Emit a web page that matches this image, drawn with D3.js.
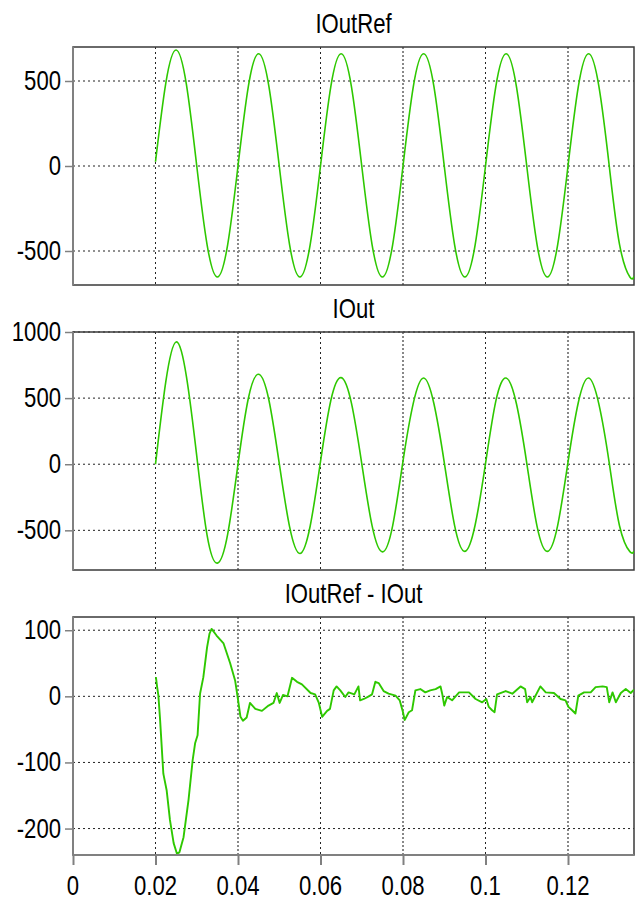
<!DOCTYPE html>
<html>
<head>
<meta charset="utf-8">
<script src="https://cdn.jsdelivr.net/npm/d3@7"></script>
<style>
  body { margin: 0; background: #fff; }
  svg { display: block; }
  text { font-family: "Liberation Sans", Arial, sans-serif; fill: #000; }
</style>
</head>
<body>
<div id="chart"></div>
<script>
// sample times for the two sine traces (s)
const sineTime = [
  0.0200, 0.0225, 0.0250, 0.0275, 0.0300, 0.0325, 0.0350, 0.0375,
  0.0400, 0.0425, 0.0450, 0.0475, 0.0500, 0.0525, 0.0550, 0.0575,
  0.0600, 0.0625, 0.0650, 0.0675, 0.0700, 0.0725, 0.0750, 0.0775,
  0.0800, 0.0825, 0.0850, 0.0875, 0.0900, 0.0925, 0.0950, 0.0975,
  0.1000, 0.1025, 0.1050, 0.1075, 0.1100, 0.1125, 0.1150, 0.1175,
  0.1200, 0.1225, 0.1250, 0.1275, 0.1300, 0.1325, 0.1350, 0.1360
];
const iOutRef = [
  25, 488, 682, 478, 0, -462, -653, -462,
  0, 467, 660, 467, 0, -462, -653, -462,
  0, 467, 660, 467, 0, -462, -653, -462,
  0, 467, 660, 467, 0, -462, -653, -462,
  0, 467, 660, 467, 0, -462, -653, -462,
  0, 467, 660, 467, 0, -462, -653, -648
];
const iOut = [
  0, 625, 925, 663, 63, -536, -748, -528,
  0, 497, 680, 484, 6, -472, -675, -467,
  20, 482, 655, 462, 5, -465, -663, -464,
  24, 462, 652, 457, 14, -462, -659, -458,
  4, 477, 652, 457, 9, -470, -659, -462,
  16, 467, 652, 453, 9, -467, -661, -658
];

// IOutRef - IOut
const errTime = [
  0.0201, 0.0204, 0.0207, 0.0211, 0.0219, 0.0227, 0.0235, 0.0244, 0.0252, 0.0258,
  0.0268, 0.0280, 0.0290, 0.0296, 0.0302, 0.0308, 0.0316, 0.0325, 0.0331, 0.0336,
  0.0348, 0.0365, 0.0381, 0.0393, 0.0400, 0.0406, 0.0412, 0.0421, 0.0429, 0.0442,
  0.0458, 0.0474, 0.0486, 0.0494, 0.0501, 0.0509, 0.0520, 0.0531, 0.0543, 0.0555,
  0.0576, 0.0587, 0.0596, 0.0604, 0.0616, 0.0623, 0.0632, 0.0639, 0.0648, 0.0660,
  0.0668, 0.0682, 0.0692, 0.0696, 0.0705, 0.0717, 0.0725, 0.0733, 0.0741, 0.0753,
  0.0765, 0.0782, 0.0792, 0.0800, 0.0804, 0.0814, 0.0822, 0.0830, 0.0842, 0.0854,
  0.0866, 0.0879, 0.0891, 0.0895, 0.0900, 0.0907, 0.0919, 0.0936, 0.0960, 0.0976,
  0.0992, 0.1002, 0.1008, 0.1016, 0.1022, 0.1028, 0.1049, 0.1065, 0.1085, 0.1096,
  0.1101, 0.1109, 0.1113, 0.1133, 0.1146, 0.1166, 0.1182, 0.1194, 0.1201, 0.1210,
  0.1218, 0.1225, 0.1239, 0.1255, 0.1267, 0.1284, 0.1294, 0.1300, 0.1308, 0.1316,
  0.1328, 0.1340, 0.1352, 0.1360
];
const errValue = [
  29, 14, 1, -34, -117, -142, -187, -222, -238, -236,
  -213, -157, -97, -71, -59, 4, 29, 74, 95, 102,
  92, 80, 50, 24, -5, -31, -37, -32, -10, -19,
  -22, -14, -10, 5, -10, 2, 0, 28, 22, 18,
  5, 3, -10, -31, -22, -19, 9, 15, 9, -1,
  6, 3, 15, -6, -4, 0, 3, 22, 20, 8,
  4, 1, -6, -24, -36, -24, -21, 9, 11, 6,
  9, 11, 15, 4, -14, -1, -6, 6, 6, -4,
  -9, -4, -16, -21, -24, 3, 8, 4, 15, 11,
  -9, -1, -9, 15, 6, 5, -4, -6, -16, -21,
  -26, 1, 6, 6, 14, 15, 14, -9, 6, -9,
  5, 11, 5, 10
];

const xTicks = [0, 0.02, 0.04, 0.06, 0.08, 0.1, 0.12];
const xDomain = [0, 0.136];

const panels = [
  { title: "IOutRef", time: sineTime, values: iOutRef, domain: [-700, 700], ticks: [-500, 0, 500], top: 47 },
  { title: "IOut", time: sineTime, values: iOut, domain: [-800, 1000], ticks: [-500, 0, 500, 1000], top: 332 },
  { title: "IOutRef - IOut", time: errTime, values: errValue, domain: [-240, 120], ticks: [-200, -100, 0, 100], top: 617, smooth: false }
];

const width = 636, height = 900;
const left = 73, right = 634, panelHeight = 238;
const fontSize = 27, squeeze = 0.82;

const svg = d3.select("#chart").append("svg")
    .attr("width", width)
    .attr("height", height);

const x = d3.scaleLinear().domain(xDomain).range([left, right]);

function label(g, text, px, py, anchor) {
    g.append("text")
        .attr("transform", `translate(${px},${py}) scale(${squeeze},1)`)
        .attr("text-anchor", anchor)
        .attr("font-size", fontSize)
        .text(text);
}

panels.forEach((p, i) => {
    const bottom = p.top + panelHeight;
    const y = d3.scaleLinear().domain(p.domain).range([bottom, p.top]);
    const g = svg.append("g");

    label(g, p.title, (left + right) / 2, p.top - 14, "middle");

    // horizontal grid
    g.append("g").selectAll("line")
        .data(p.ticks)
        .enter().append("line")
        .attr("x1", left).attr("x2", right)
        .attr("y1", d => y(d)).attr("y2", d => y(d))
        .attr("stroke", "#222")
        .attr("stroke-width", 1)
        .attr("stroke-dasharray", "2,3");

    // vertical grid, alternating dark / grey like the original
    g.append("g").selectAll("line")
        .data(xTicks.filter(d => d > 0))
        .enter().append("line")
        .attr("x1", d => x(d)).attr("x2", d => x(d))
        .attr("y1", p.top).attr("y2", bottom)
        .attr("stroke", (d, k) => k % 2 ? "#888" : "#222")
        .attr("stroke-width", (d, k) => k % 2 ? 2 : 1)
        .attr("stroke-dasharray", (d, k) => k % 2 ? "2,2" : "2,3");

    // frame
    g.append("rect")
        .attr("x", left).attr("y", p.top)
        .attr("width", right - left).attr("height", panelHeight)
        .attr("fill", "none")
        .attr("stroke", "#3a3a3a")
        .attr("stroke-width", 1.5);

    // trace
    const clipId = "clip" + i;
    svg.append("clipPath").attr("id", clipId)
        .append("rect")
        .attr("x", left).attr("y", p.top)
        .attr("width", right - left).attr("height", panelHeight);

    const line = d3.line()
        .x((d, k) => x(p.time[k]))
        .y(d => y(d))
        .curve(p.smooth === false ? d3.curveLinear : d3.curveNatural);

    g.append("path")
        .datum(p.values)
        .attr("clip-path", `url(#${clipId})`)
        .attr("fill", "none")
        .attr("stroke", "#2ec800")
        .attr("stroke-width", p.smooth === false ? 1.9 : 1.6)
        .attr("stroke-linejoin", "round")
        .attr("d", line);

    // left axis
    const yAxis = g.append("g")
        .attr("transform", `translate(${left},0)`)
        .call(d3.axisLeft(y).tickValues(p.ticks).tickSize(8).tickFormat(""));
    yAxis.select(".domain").attr("stroke", "#808080").attr("stroke-width", 2)
        .attr("d", `M0,${p.top}V${bottom}`);
    yAxis.selectAll(".tick line").attr("stroke", "#808080").attr("stroke-width", 1.5);
    p.ticks.forEach(t => label(g, String(t), left - 12, y(t) + 9, "end"));

    // bottom axis only on the last panel
    if (i === panels.length - 1) {
        const xAxis = g.append("g")
            .attr("transform", `translate(0,${bottom})`)
            .call(d3.axisBottom(x).tickValues(xTicks).tickSize(10).tickFormat(""));
        xAxis.select(".domain").attr("stroke", "#808080").attr("stroke-width", 2)
            .attr("d", `M${left},0H${right}`);
        xAxis.selectAll(".tick line").attr("stroke", "#808080").attr("stroke-width", 2);
        xTicks.forEach(t => label(g, String(t), x(t), bottom + 40, "middle"));
    }
});
</script>
</body>
</html>
